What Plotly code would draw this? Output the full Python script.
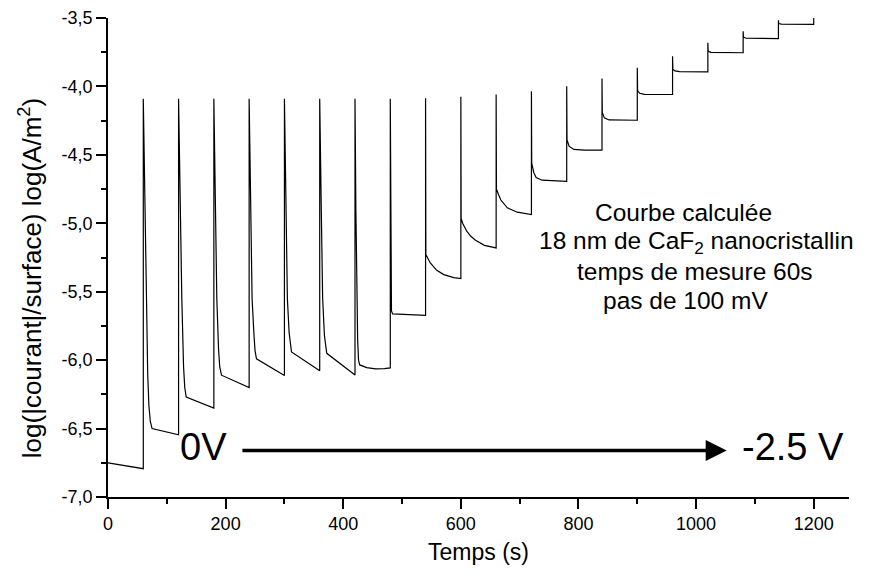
import plotly.graph_objects as go

# Time (s) and log(|courant|/surface)
temps = [
    0, 60,
    60, 62.5, 65, 67.5, 69.5, 72, 75, 120,
    120, 122.5, 125.5, 128.5, 130.5, 133, 180,
    180, 182.5, 185, 188, 190, 193, 240,
    240, 242.5, 245, 248, 250, 252.5, 300,
    300, 302.5, 305, 308, 310, 312, 360,
    360, 362.5, 365, 368, 370, 372, 420,
    420, 421.5, 423, 424.5, 426, 428, 440, 455, 470, 480,
    480, 481, 482, 484, 540,
    540, 540.5, 548, 559, 571, 588, 600,
    600, 600.5, 603, 606, 610, 617, 625, 640, 660,
    660, 660.5, 664, 668, 679, 696, 720,
    720, 720.5, 724, 728, 738, 760, 780,
    780, 780.5, 784, 792, 810, 840,
    840, 840.5, 844, 852, 900,
    900, 900.5, 904, 912, 960,
    960, 960.5, 964, 972, 1020,
    1020, 1020.5, 1025, 1080,
    1080, 1080.5, 1085, 1140,
    1140, 1140.5, 1145, 1200,
    1200,
]
log_courant = [
    -6.75, -6.793,
    -4.09, -4.85, -5.6, -6.1, -6.33, -6.45, -6.5, -6.545,
    -4.09, -4.9, -5.55, -6.05, -6.2, -6.27, -6.35,
    -4.09, -4.85, -5.55, -5.92, -6.05, -6.11, -6.2,
    -4.09, -4.85, -5.55, -5.8, -5.93, -5.99, -6.113,
    -4.09, -4.85, -5.55, -5.8, -5.89, -5.94, -6.077,
    -4.09, -4.85, -5.55, -5.82, -5.9, -5.95, -6.108,
    -4.09, -4.9, -5.5, -5.85, -6.0, -6.035, -6.055, -6.064, -6.062, -6.057,
    -4.09, -5.4, -5.64, -5.662, -5.672,
    -4.087, -5.229, -5.29, -5.344, -5.375, -5.397, -5.404,
    -4.076, -4.965, -5.0, -5.03, -5.058, -5.095, -5.124, -5.161, -5.18,
    -4.059, -4.75, -4.79, -4.83, -4.887, -4.919, -4.937,
    -4.035, -4.56, -4.63, -4.665, -4.685, -4.692, -4.693,
    -3.998, -4.39, -4.437, -4.46, -4.466, -4.466,
    -3.942, -4.19, -4.23, -4.245, -4.247,
    -3.864, -4.03, -4.05, -4.058, -4.059,
    -3.779, -3.875, -3.887, -3.892, -3.893,
    -3.681, -3.742, -3.751, -3.754,
    -3.597, -3.64, -3.648, -3.65,
    -3.516, -3.54, -3.545, -3.547,
    -3.5,
]

x_tick_vals = [0, 200, 400, 600, 800, 1000, 1200]
x_tick_labels = ["0", "200", "400", "600", "800", "1000", "1200"]
y_tick_vals = [-7.0, -6.5, -6.0, -5.5, -5.0, -4.5, -4.0, -3.5]
y_tick_labels = ["-7,0", "-6,5", "-6,0", "-5,5", "-5,0", "-4,5", "-4,0", "-3,5"]

note_lines = ["Courbe calculée",
              "18 nm de CaF<sub>2</sub> nanocristallin",
              "temps de mesure 60s",
              "pas de 100 mV"]

FONT = "Liberation Sans, Arial, sans-serif"

fig = go.Figure()
fig.add_trace(go.Scatter(
    x=temps, y=log_courant, mode="lines",
    line=dict(color="black", width=1.2),
    showlegend=False, hoverinfo="skip",
))

fig.update_layout(
    width=878, height=579,
    margin=dict(l=100, r=37, t=10, b=90),
    paper_bgcolor="white", plot_bgcolor="white",
    font=dict(family=FONT, color="black"),
    showlegend=False,
)

fig.update_xaxes(
    range=[0, 1260], automargin=False, ticklabeloverflow="allow",
    tickmode="array", tickvals=x_tick_vals, ticktext=x_tick_labels,
    ticks="outside", ticklen=10, tickwidth=1.5, tickcolor="black",
    minor=dict(tickmode="linear", tick0=0, dtick=100, ticks="outside",
               ticklen=5, tickwidth=1.5, tickcolor="black", showgrid=False),
    showline=True, linecolor="black", linewidth=1.5,
    showgrid=False, zeroline=False,
    tickfont=dict(size=18, family=FONT),
    title=dict(text="Temps (s)", font=dict(size=23, family=FONT), standoff=11),
)
fig.update_yaxes(
    range=[-7.0, -3.5], automargin=False, ticklabeloverflow="allow",
    tickmode="array", tickvals=y_tick_vals, ticktext=y_tick_labels,
    ticks="outside", ticklen=10, tickwidth=1.5, tickcolor="black",
    minor=dict(tickmode="linear", tick0=-7.0, dtick=0.25, ticks="outside",
               ticklen=5, tickwidth=1.5, tickcolor="black", showgrid=False),
    showline=True, linecolor="black", linewidth=1.5,
    showgrid=False, zeroline=False,
    tickfont=dict(size=18, family=FONT),
)

# y-axis title (rotated annotation, centred like the reference)
fig.add_annotation(
    x=-0.105, y=-5.4, xref="paper", yref="y", textangle=-90,
    text="log(|courant|/surface) log(A/m<sup>2</sup>)",
    showarrow=False, xanchor="center", yanchor="middle",
    font=dict(size=26, family=FONT, color="black"),
)

for line_text, x_pos, y_pos in zip(note_lines,
                                   [978, 1000, 998, 982],
                                   [-4.922, -5.141, -5.35, -5.562]):
    fig.add_annotation(
        x=x_pos, y=y_pos, xref="x", yref="y", text=line_text,
        showarrow=False, xanchor="center", yanchor="middle",
        font=dict(size=24.5, family=FONT, color="black"),
    )

fig.add_annotation(
    x=162, y=-6.635, xref="x", yref="y", text="0V", showarrow=False,
    font=dict(size=38, family=FONT, color="black"),
)
fig.add_annotation(
    x=1165, y=-6.635, xref="x", yref="y", text="-2.5 V", showarrow=False,
    font=dict(size=38, family=FONT, color="black"),
)
fig.add_annotation(
    x=1052, y=-6.66, ax=226, ay=-6.66, xref="x", yref="y", axref="x", ayref="y",
    text="", showarrow=True, arrowhead=2, arrowsize=1.2, arrowwidth=3.5,
    arrowcolor="black",
)

fig.write_html("out.html")
